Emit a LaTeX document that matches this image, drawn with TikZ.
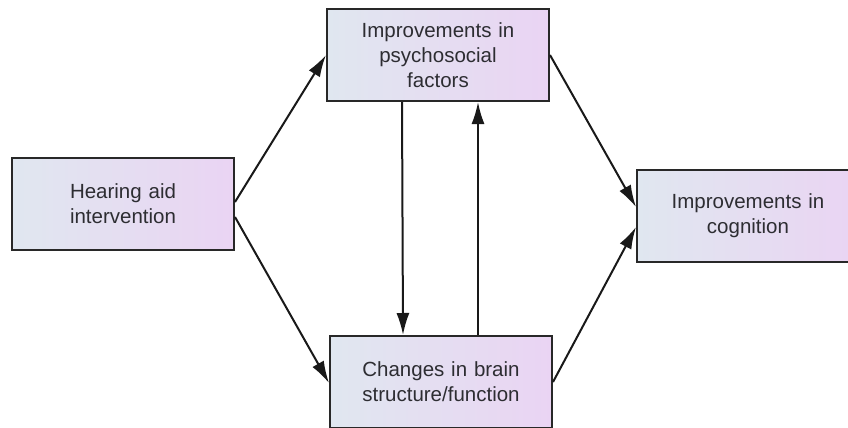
\documentclass[tikz,border=0pt]{standalone}
\usepackage{fontspec}
\setmainfont{Liberation Sans}
\usetikzlibrary{arrows.meta,calc}
\definecolor{boxL}{RGB}{224,231,240}
\definecolor{boxR}{RGB}{234,212,243}
\definecolor{edge}{RGB}{40,40,40}
\definecolor{txt}{RGB}{45,45,50}
\tikzset{
  stepbox/.style={draw=edge, line width=2pt, left color=boxL, right color=boxR,
    minimum width=222pt, minimum height=92pt, inner sep=0pt, align=center,
    text=txt, font=\fontsize{20.5}{25}\selectfont, text width=215pt},
  conn/.style={draw=black!90, line width=2pt, -{Latex[length=22pt,width=13pt]}}
}
\begin{document}
\begin{tikzpicture}[x=1pt,y=-1pt]
\useasboundingbox (0,0) rectangle (848,428);
\node[stepbox] (T) at (438,55) {Improvements in\\psychosocial\\factors};
\node[stepbox] (L) at (123,204) {Hearing aid\\intervention};
\node[stepbox] (B) at (441,382) {Changes in brain\\structure/function};
\node[stepbox] (R) at (748,216) {Improvements in\\cognition};
\draw[conn] ($(L.east)+(0,-2)$) -- (T.west);
\draw[conn] ($(L.east)+(0,13)$) -- ($(B.west)+(0,1)$);
\draw[conn] (T.east) -- ($(R.west)+(0,-9)$);
\draw[conn] (B.east) -- ($(R.west)+(0,11)$);
\draw[conn] ($(T.south)+(-36,0)$) -- ($(B.north)+(-38,0)$);
\draw[conn] ($(B.north)+(37,0)$) -- ($(T.south)+(40,0)$);
\end{tikzpicture}
\end{document}
